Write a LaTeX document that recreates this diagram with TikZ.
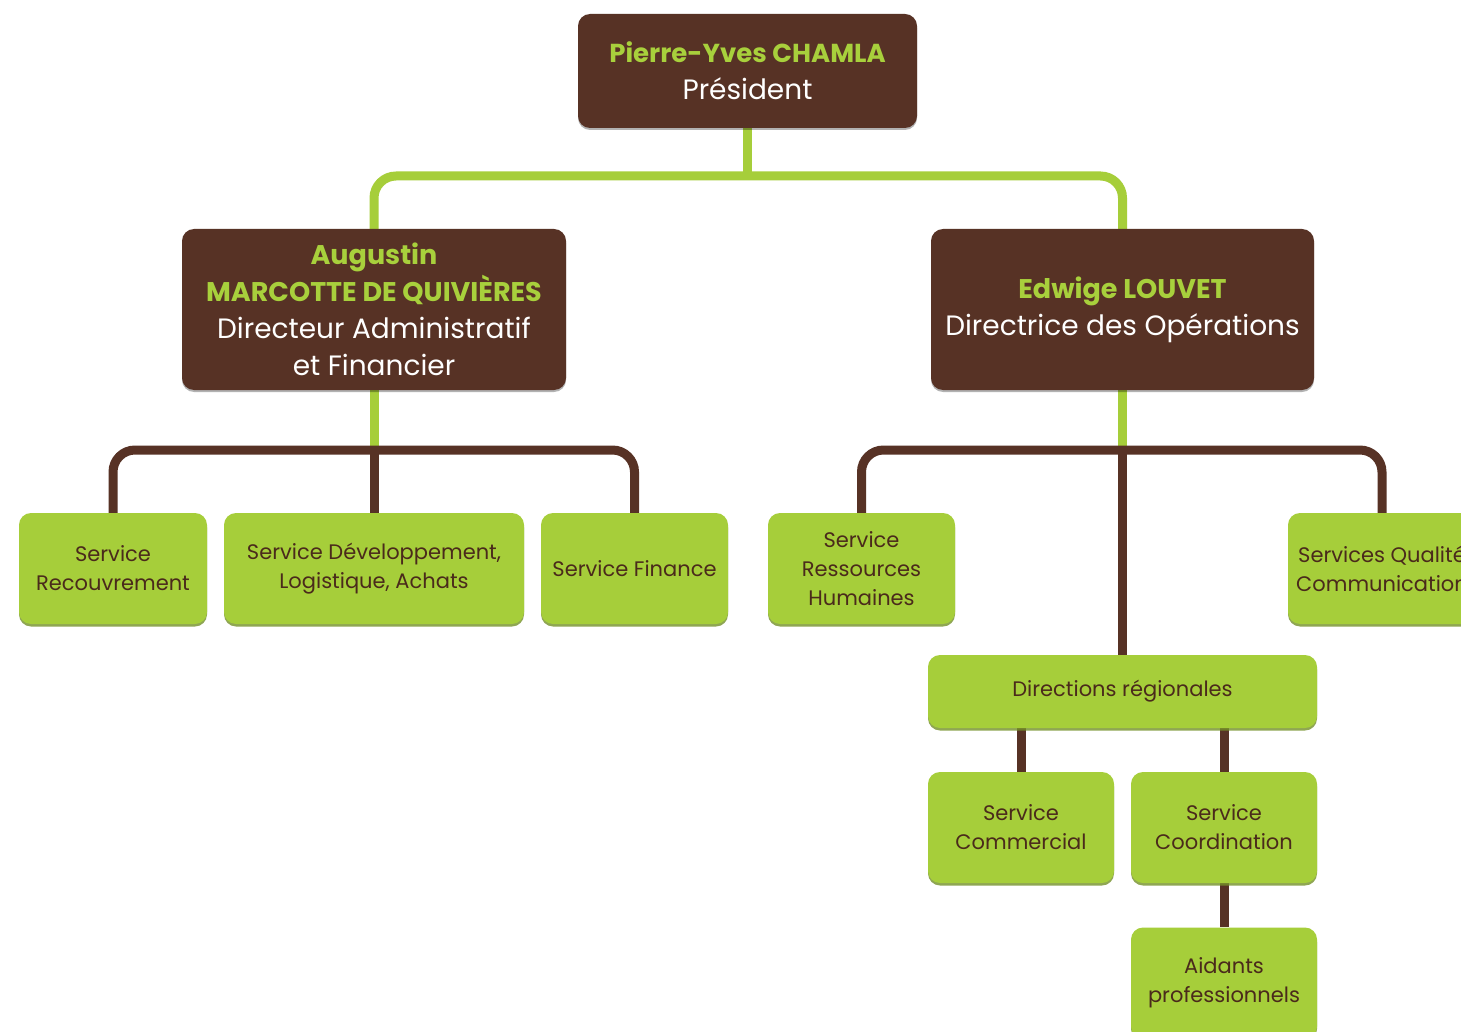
\documentclass[tikz,border=0pt]{standalone}
\usepackage{fontspec}
\setmainfont{Poppins}
\usetikzlibrary{shadows,backgrounds}
\definecolor{brn}{HTML}{573225}
\definecolor{grn}{HTML}{A6CE3A}
\definecolor{ttl}{HTML}{A8D03C}
\definecolor{dtxt}{HTML}{4A2A1B}
\tikzset{
  bigbox/.style={fill=brn, rounded corners=12pt, inner sep=0pt, align=center, text=white,
    font=\fontsize{28}{37}\selectfont,
    drop shadow={shadow xshift=0pt, shadow yshift=-2pt, fill=black, opacity=0.3}},
  smallbox/.style={fill=grn, rounded corners=12pt, inner sep=0pt, align=center, text=dtxt,
    font=\fontsize{21}{29}\selectfont, minimum height=111pt,
    drop shadow={shadow xshift=0pt, shadow yshift=-2.5pt, fill=grn!70!black, opacity=0.8}},
  gline/.style={draw=grn, line width=9pt, rounded corners=22pt},
  bline/.style={draw=brn, line width=9pt, rounded corners=22pt}
}
\newcommand{\nmtxt}[2][27]{{\color{ttl}\bfseries\fontsize{#1}{37}\selectfont #2}}
\begin{document}
\begin{tikzpicture}[x=1pt,y=-1pt]
\useasboundingbox (0,0) rectangle (1461,1032);
\clip (0,0) rectangle (1461,1032);

% boxes
\node[bigbox, minimum width=339pt, minimum height=114pt] (pres) at (747.5,71)
  {\nmtxt[26]{Pierre-Yves CHAMLA}\\Président};
\node[bigbox, minimum width=384pt, minimum height=161pt] (aug) at (374,309.5)
  {\nmtxt{Augustin}\\\nmtxt{MARCOTTE DE QUIVIÈRES}\\Directeur Administratif\\et Financier};
\node[bigbox, minimum width=383pt, minimum height=161pt] (edw) at (1122.5,309.5)
  {\nmtxt{Edwige LOUVET}\\Directrice des Opérations};

\node[smallbox, minimum width=188pt] (rec) at (113,568.5) {Service\\Recouvrement};
\node[smallbox, minimum width=300pt] (dev) at (374,568.5) {Service Développement,\\Logistique, Achats};
\node[smallbox, minimum width=187pt] (fin) at (634.5,568.5) {Service Finance};
\node[smallbox, minimum width=187pt] (rh) at (861.5,568.5) {Service\\Ressources\\Humaines};
\node[smallbox, minimum width=188pt] (qual) at (1382,568.5) {Services Qualité\\Communication};
\node[smallbox, minimum width=389pt, minimum height=73pt] (dir) at (1122.5,691.5) {Directions régionales};
\node[smallbox, minimum width=186pt] (com) at (1021,827.5) {Service\\Commercial};
\node[smallbox, minimum width=186pt] (coo) at (1224,827.5) {Service\\Coordination};
\node[smallbox, minimum width=186pt] (aid) at (1224,983) {Aidants\\professionnels};

% junctions
\coordinate (jtop) at (747.5,176);
\coordinate (jl) at (374,450);
\coordinate (jr) at (1122.5,450);

% connectors, behind the boxes
\begin{scope}[on background layer]
\fill[white] (0,0) rectangle (1461,1032);
\draw[gline] (pres.south) -- (jtop);
\draw[gline] (aug.north) |- (jtop) -| (edw.north);
\draw[gline] (aug.south) -- (jl);
\draw[gline] (edw.south) -- (jr);
\draw[bline] (rec.north) |- (jl) -| (fin.north);
\draw[bline] (jl) -- (dev.north);
\draw[bline] (rh.north) |- (jr) -| (qual.north);
\draw[bline] (jr) -- (dir.north);
\draw[bline] (com.north |- dir.south) -- (com.north);
\draw[bline] (coo.north |- dir.south) -- (coo.north);
\draw[bline] (coo.south) -- (aid.north);
\end{scope}
\end{tikzpicture}
\end{document}
